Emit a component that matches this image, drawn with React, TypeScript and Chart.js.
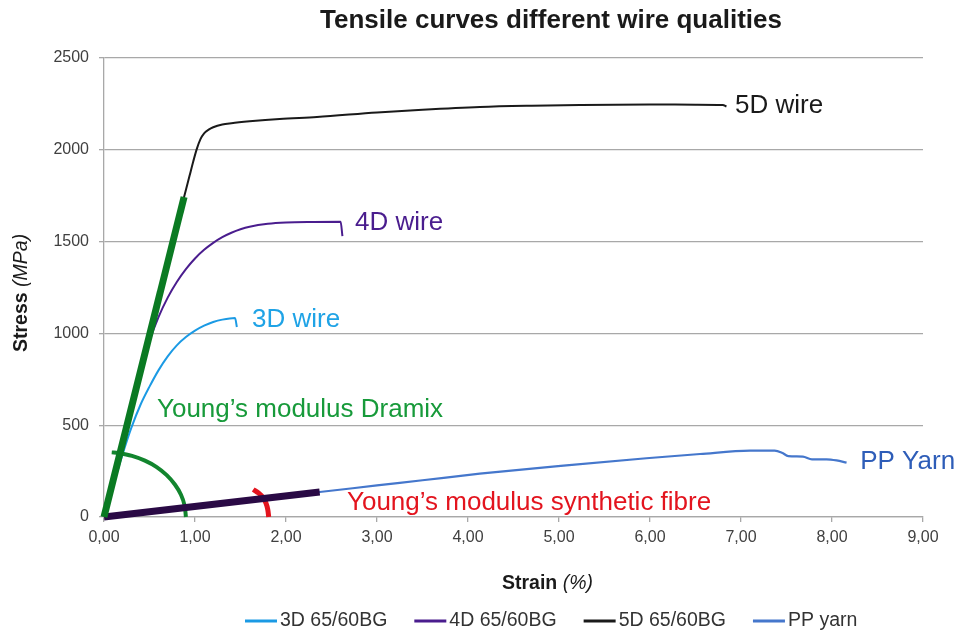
import React, { useEffect, useRef } from 'react';
import { Chart, registerables } from 'chart.js';

Chart.register(...registerables);

const FONT = '"Liberation Sans", Arial, Helvetica, sans-serif';

// ---- data (strain %, stress MPa) ----
const strain3D = [0, 0.1, 0.2, 0.3, 0.4, 0.5, 0.6, 0.7, 0.8, 0.9, 1.0, 1.1, 1.2, 1.3, 1.44, 1.46];
const stress3D = [0, 170, 335, 485, 610, 710, 800, 875, 935, 980, 1015, 1042, 1062, 1075, 1084, 1035];

const strain4D = [0, 0.1, 0.2, 0.3, 0.4, 0.5, 0.6, 0.7, 0.8, 0.9, 1.0, 1.1, 1.2, 1.3, 1.4, 1.5, 1.6, 1.8, 2.0, 2.3, 2.6, 2.62];
const stress4D = [0, 215, 425, 625, 805, 960, 1090, 1195, 1280, 1350, 1408, 1455, 1493, 1524, 1548, 1567, 1581, 1597, 1604, 1607, 1608, 1530];

const strain5D = [0, 0.3, 0.6, 0.88, 0.94, 0.98, 1.02, 1.06, 1.1, 1.15, 1.2, 1.3, 1.4, 1.6, 1.93, 2.34, 3.0, 3.5, 4.13, 4.7, 5.23, 6.0, 6.5, 6.8, 6.84];
const stress5D = [0, 595, 1190, 1743, 1858, 1935, 2005, 2058, 2090, 2110, 2123, 2138, 2145, 2155, 2168, 2179, 2203, 2218, 2233, 2240, 2244, 2247, 2246, 2244, 2236];

const strainPP = [0, 0.5, 1, 1.5, 2, 2.37, 3, 3.5, 4.13, 5.05, 5.96, 6.55, 7.1, 7.37, 7.45, 7.52, 7.68, 7.78, 7.94, 8.05, 8.16];
const stressPP = [0, 30, 60, 88, 116, 136, 172, 200, 236, 280, 320, 343, 361, 361, 350, 332, 329, 314, 314, 308, 296];

// annotation shapes
const dramixModX = [0, 0.88];
const dramixModY = [0, 1743];
const fibreModX = [0, 2.37];
const fibreModY = [0, 136];
const arcGreenX = [0.9, 0.886, 0.846, 0.779, 0.689, 0.579, 0.45, 0.308, 0.156, 0.085];
const arcGreenY = [0, 62, 121, 177, 228, 272, 307, 333, 349, 352];
const arcRedX = [1.81, 1.8, 1.78, 1.75, 1.7, 1.64];
const arcRedY = [0, 40, 75, 105, 130, 150];

// ticks
const xTickValues = [0, 1, 2, 3, 4, 5, 6, 7, 8, 9];
const xTickLabels = ['0,00', '1,00', '2,00', '3,00', '4,00', '5,00', '6,00', '7,00', '8,00', '9,00'];
const yTickValues = [0, 500, 1000, 1500, 2000, 2500];
const yTickLabels = ['0', '500', '1000', '1500', '2000', '2500'];

const seriesNames = ['3D 65/60BG', '4D 65/60BG', '5D 65/60BG', 'PP yarn'];

const TITLE = 'Tensile curves different wire qualities';

// in-plot text labels (anchored in data units, left/baseline)
const textLabels = [
  { text: '5D wire', x: 6.934, y: 2200, color: '#1a1a1a' },
  { text: '4D wire', x: 2.758, y: 1563, color: '#4A1D8E' },
  { text: '3D wire', x: 1.626, y: 1035, color: '#1FA3E6' },
  { text: 'Young\u2019s modulus Dramix', x: 0.582, y: 545, color: '#179A3A' },
  { text: 'Young\u2019s modulus synthetic fibre', x: 2.67, y: 38, color: '#E3141E' },
  { text: 'PP Yarn', x: 8.31, y: 261, color: '#2E5DB8' },
];

const pts = (xs: number[], ys: number[]) => xs.map((x, i) => ({ x, y: ys[i] }));

const overlayPlugin = {
  id: 'overlay',
  afterDatasetsDraw(chart: any) {
    const { ctx } = chart;
    const xs = chart.scales.x;
    const ys = chart.scales.y;
    ctx.save();
    ctx.textAlign = 'left';
    ctx.textBaseline = 'alphabetic';
    ctx.font = `26px ${FONT}`;
    for (const t of textLabels) {
      ctx.fillStyle = t.color;
      ctx.fillText(t.text, xs.getPixelForValue(t.x), ys.getPixelForValue(t.y));
    }
    ctx.restore();
  },
  afterDraw(chart: any) {
    const { ctx } = chart;
    ctx.save();
    // title
    ctx.fillStyle = '#1a1a1a';
    ctx.font = `bold 26px ${FONT}`;
    ctx.textAlign = 'center';
    ctx.textBaseline = 'alphabetic';
    ctx.fillText(TITLE, 551, 28);

    // x axis title
    ctx.textAlign = 'left';
    ctx.font = `bold 19.5px ${FONT}`;
    ctx.fillText('Strain', 502, 589);
    let w = ctx.measureText('Strain').width;
    ctx.font = `italic 19.5px ${FONT}`;
    ctx.fillText(' (%)', 502 + w, 589);

    // y axis title
    ctx.save();
    ctx.translate(27, 352);
    ctx.rotate(-Math.PI / 2);
    ctx.font = `bold 19.5px ${FONT}`;
    ctx.fillText('Stress', 0, 0);
    w = ctx.measureText('Stress').width;
    ctx.font = `italic 19.5px ${FONT}`;
    ctx.fillText(' (MPa)', w, 0);
    ctx.restore();

    // legend
    let lx = 245;
    const ly = 621;
    ctx.font = `19.5px ${FONT}`;
    ctx.textBaseline = 'middle';
    const legendSets = chart.data.datasets.filter((d: any) => d.inLegend);
    for (const d of legendSets) {
      ctx.strokeStyle = d.borderColor;
      ctx.lineWidth = 3;
      ctx.beginPath();
      ctx.moveTo(lx, ly);
      ctx.lineTo(lx + 32, ly);
      ctx.stroke();
      ctx.fillStyle = '#333333';
      ctx.fillText(d.label, lx + 35, ly);
      lx += 35 + ctx.measureText(d.label).width + 27;
    }
    ctx.restore();
  },
};

export default function App() {
  const ref = useRef<HTMLCanvasElement>(null);
  useEffect(() => {
    const baseLine = { pointRadius: 0, fill: false, order: 1, inLegend: true, cubicInterpolationMode: 'monotone' as const };
    const chart = new Chart(ref.current as HTMLCanvasElement, {
      type: 'line',
      data: {
        datasets: [
          { label: 'dramix', data: pts(dramixModX, dramixModY), borderColor: '#0A7A22', borderWidth: 7, pointRadius: 0, tension: 0, order: 0, clip: 10 } as any,
          { label: 'fibre', data: pts(fibreModX, fibreModY), borderColor: '#2A0A45', borderWidth: 7, pointRadius: 0, tension: 0, order: 0, clip: 10 } as any,
          { label: 'arcG', data: pts(arcGreenX, arcGreenY), borderColor: '#12852E', borderWidth: 4, pointRadius: 0, tension: 0.3, order: 0, clip: 10 } as any,
          { label: 'arcR', data: pts(arcRedX, arcRedY), borderColor: '#E3141E', borderWidth: 5, pointRadius: 0, tension: 0.3, order: 0, clip: 10 } as any,
          { ...baseLine, label: seriesNames[0], data: pts(strain3D, stress3D), borderColor: '#1B9AE4', borderWidth: 2 } as any,
          { ...baseLine, label: seriesNames[1], data: pts(strain4D, stress4D), borderColor: '#4A1D8E', borderWidth: 2 } as any,
          { ...baseLine, label: seriesNames[2], data: pts(strain5D, stress5D), borderColor: '#1a1a1a', borderWidth: 2 } as any,
          { ...baseLine, label: seriesNames[3], data: pts(strainPP, stressPP), borderColor: '#4577CC', borderWidth: 2.2 } as any,
        ],
      },
      options: {
        responsive: false,
        animation: false,
        events: [],
        layout: { padding: { top: 58, right: 36, bottom: 0, left: 0 } },
        plugins: {
          legend: { display: false },
          title: { display: false },
          tooltip: { enabled: false },
        },
        scales: {
          x: {
            type: 'linear',
            min: 0,
            max: 9,
            afterBuildTicks: (s: any) => { s.ticks = xTickValues.map((v) => ({ value: v })); },
            ticks: {
              autoSkip: false,
              maxRotation: 0,
              padding: 6,
              color: '#404040',
              font: { family: FONT, size: 16 },
              callback: (v: any) => xTickLabels[xTickValues.indexOf(Number(v))],
            },
            grid: { display: true, drawOnChartArea: false, drawTicks: true, tickLength: 5, color: '#A8A8A8', lineWidth: 1.3 },
            border: { display: true, color: '#A8A8A8', width: 1.3 },
            afterFit: (s: any) => { s.height = 117; },
          },
          y: {
            type: 'linear',
            min: 0,
            max: 2500,
            afterBuildTicks: (s: any) => { s.ticks = yTickValues.map((v) => ({ value: v })); },
            ticks: {
              padding: 10,
              color: '#404040',
              font: { family: FONT, size: 16 },
              callback: (v: any) => yTickLabels[yTickValues.indexOf(Number(v))],
            },
            grid: { display: true, drawTicks: true, tickLength: 5, color: '#A8A8A8', lineWidth: 1.3 },
            border: { display: true, color: '#A8A8A8', width: 1.3 },
            afterFit: (s: any) => { s.width = 104; },
          },
        },
      },
      plugins: [overlayPlugin],
    });
    return () => chart.destroy();
  }, []);
  return (
    <div style={{ position: 'fixed', left: 0, top: 0, width: 959, height: 634, background: '#ffffff' }}>
      <canvas ref={ref} width={959} height={634} style={{ display: 'block' }} />
    </div>
  );
}
